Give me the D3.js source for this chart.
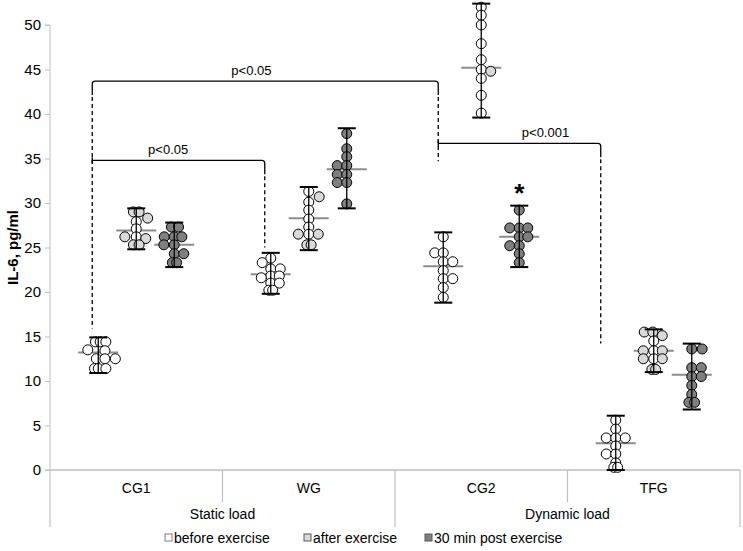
<!DOCTYPE html>
<html><head><meta charset="utf-8">
<script src="https://cdn.jsdelivr.net/npm/d3@7"></script>
<style>body{margin:0;background:#fff}svg{display:block;font-family:"Liberation Sans",Arial,sans-serif}</style>
</head><body><div id="chart"></div>
<script>
// ---------- data ----------
const categories = ["CG1", "WG", "CG2", "TFG"];
const groups = [{label: "Static load", cats: ["CG1", "WG"]}, {label: "Dynamic load", cats: ["CG2", "TFG"]}];
const seriesNames = ["before exercise", "after exercise", "30 min post exercise"];
const yTicks = [0, 5, 10, 15, 20, 25, 30, 35, 40, 45, 50];
// individual points: [value, jitter (in marker widths)]
const cg1Before = [[14.4,-0.3],[14.4,0.2],[14.4,0.8],[13.5,-1.1],[13.4,0.7],[12.5,-0.2],[12.5,0.7],[12.5,1.8],[11.4,-0.4],[11.4,0],[11.4,0.8]];
const cg1After = [[29.0,-0.3],[29.0,0.3],[28.3,1.2],[27.9,0],[27.1,0],[26.2,-1.2],[26.2,0],[26.0,1.0],[25.3,-0.3],[25.3,0.3]];
const cg1Post = [[27.3,-0.3],[27.3,0.45],[26.2,-1.05],[26.2,0],[26.2,0.8],[25.3,-1.1],[25.3,0],[24.3,0],[24.3,1.0],[23.3,-0.2],[23.3,0.25]];
const wgBefore = [[23.8,0],[23.3,-0.9],[22.6,0],[22.6,1.0],[21.8,0],[21.8,0.9],[21.6,-1.0],[21.0,0],[21.0,0.9],[20.2,-0.2],[20.2,0.2]];
const wgAfter = [[31.3,0],[30.7,1.1],[30.1,0],[29.2,0],[28.2,0],[27.3,0],[26.5,-1.1],[26.5,0],[26.5,1.0],[25.3,-0.2],[25.3,0.25]];
const wgPost = [[37.8,0],[36.1,0],[35.2,0],[34.2,-1],[34.2,0],[33.2,-1],[33.2,0],[32.3,-1],[32.3,0],[29.9,0]];
const cg2Before = [[26.2,0],[24.4,-0.9],[24.4,0],[23.4,0],[23.4,1.0],[22.4,0],[21.5,0],[21.5,1.0],[20.5,0],[19.4,0]];
const cg2After = [[52.0,0],[51.1,0],[50.0,0],[47.9,0],[46.1,0],[45.0,0],[44.8,1.0],[44.0,0],[42.1,0],[40.1,0]];
const cg2Post = [[29.2,0],[27.2,-1],[27.2,0],[27.2,0.9],[26.2,0],[26.2,0.9],[25.2,-1],[25.2,0],[24.3,0],[23.3,0]];
const tfgBefore = [[5.6,0],[4.6,0],[3.6,-1],[3.6,0],[3.6,1],[2.7,0],[1.8,-1],[1.8,0],[0.8,0],[0.3,-0.2],[0.3,0.2]];
const tfgAfter = [[15.5,-1],[15.5,-0.1],[15.1,0.9],[14.5,0],[13.4,-1.1],[13.4,0],[13.4,0.9],[12.5,-1.1],[12.5,0],[12.5,0.9],[11.3,-0.2],[11.3,0.2]];
const tfgPost = [[13.6,0],[13.6,1.1],[11.5,0],[11.5,1.0],[10.5,0],[10.5,1.0],[9.5,0],[8.5,0],[7.6,-0.3],[7.6,0.3]];
// summary per category & series: [mean, low, high]
const cg1Stats = [[13.2,10.9,14.9],[26.9,24.8,29.4],[25.3,22.8,27.8]];
const wgStats  = [[22.0,19.8,24.4],[28.3,24.7,31.8],[33.8,29.4,38.4]];
const cg2Stats = [[22.9,18.8,26.7],[45.2,39.6,52.4],[26.2,22.8,29.7]];
const tfgStats = [[3.0,0.0,6.1],[13.4,11.0,15.8],[10.7,6.8,14.2]];
const pointSets = {CG1:[cg1Before,cg1After,cg1Post], WG:[wgBefore,wgAfter,wgPost], CG2:[cg2Before,cg2After,cg2Post], TFG:[tfgBefore,tfgAfter,tfgPost]};
const statSets = {CG1:cg1Stats, WG:wgStats, CG2:cg2Stats, TFG:tfgStats};
// significance brackets: from/to category (before series), top level, end levels of the dashed drops
const brackets = [
  {from:"CG1", to:"CG2", top:43.7, leftEnd:15.9, rightEnd:34.7, label:"p<0.05"},
  {from:"CG1", to:"WG",  top:34.8, leftEnd:null, rightEnd:25.0, label:"p<0.05"},
  {from:"CG2", to:"TFG", top:36.7, leftEnd:null, rightEnd:14.2, label:"p<0.001"}
];
const starMarks = [{cat:"CG2", series:2, text:"*"}];

// ---------- drawing ----------
const W = 743, H = 551;
const svg = d3.select("#chart").append("svg").attr("width", W).attr("height", H);
const left = 50, right = 740, y0 = 470, yTop = 25;
const y = d3.scaleLinear().domain([0, 50]).range([y0, yTop]);
const xc = d3.scaleBand().domain(categories).range([left, right]);
const xs = d3.scalePoint().domain(d3.range(3)).range([-38, 38]);
const sx = (cat, s) => xc(cat) + xc.bandwidth() / 2 + xs(s);
const R = 5, JW = 9.5;
const axisCol = "#bfbfbf";
const fills = ["#ffffff", "#d9d9d9", "#7f7f7f"];

// y axis
const yAxis = svg.append("g").attr("transform", `translate(${left},0)`)
  .call(d3.axisLeft(y).tickValues(yTicks).tickSize(5).tickPadding(4));
yAxis.select(".domain").attr("stroke", axisCol).attr("d", `M-5,${y0}H0V${yTop}H-5`);
yAxis.selectAll(".tick line").attr("stroke", axisCol);
yAxis.selectAll(".tick text").attr("font-size", 15).attr("fill", "#000").attr("font-family", "Liberation Sans, Arial");
svg.append("text").attr("transform", `translate(18,${(y0 + yTop) / 2}) rotate(-90)`)
  .attr("text-anchor", "middle").attr("font-weight", "bold").attr("font-size", 15).text("IL-6, pg/ml");

// x axis line + category table
svg.append("line").attr("x1", left).attr("x2", right).attr("y1", y0).attr("y2", y0).attr("stroke", axisCol).attr("stroke-width", 1.5);
const bounds = categories.map(c => xc(c)).concat([right]);
bounds.forEach((b, i) => {
  const groupEdge = (i % 2 === 0);
  svg.append("line").attr("x1", b).attr("x2", b).attr("y1", y0).attr("y2", groupEdge ? 527 : 502)
    .attr("stroke", axisCol).attr("stroke-width", 1.2);
});
categories.forEach(c => {
  svg.append("text").attr("x", xc(c) + xc.bandwidth() / 2).attr("y", 493).attr("text-anchor", "middle")
    .attr("font-size", 14).text(c);
});
groups.forEach(g => {
  const x1 = xc(g.cats[0]), x2 = xc(g.cats[g.cats.length - 1]) + xc.bandwidth();
  svg.append("text").attr("x", (x1 + x2) / 2).attr("y", 519).attr("text-anchor", "middle")
    .attr("font-size", 14).text(g.label);
});

// brackets
const bracketShift = {CG1: -6, WG: -6, CG2: -5, TFG: -15};
const labelFrac = [0.46, 0.44, 0.66];
const bx = c => sx(c, 0) + bracketShift[c];
const dash = "4,3";
brackets.forEach((b, i) => {
  const xa = bx(b.from), xb = bx(b.to), yt = y(b.top);
  const g = svg.append("g").attr("stroke", "#000").attr("fill", "none").attr("stroke-width", 1.3);
  const leftPart = b.leftEnd !== null ? `M${xa},${yt + 14}V${yt + 3}Q${xa},${yt} ${xa + 3},${yt}` : `M${xa},${yt - 3}V${yt + 3}M${xa},${yt}`;
  g.append("path").attr("d", `${leftPart}H${xb - 3}Q${xb},${yt} ${xb},${yt + 3}V${yt + 14}`);
  if (b.leftEnd !== null) g.append("line").attr("x1", xa).attr("x2", xa).attr("y1", yt + 16).attr("y2", y(b.leftEnd)).attr("stroke-dasharray", dash);
  g.append("line").attr("x1", xb).attr("x2", xb).attr("y1", yt + 16).attr("y2", y(b.rightEnd)).attr("stroke-dasharray", dash);
  svg.append("text").attr("x", xa + (xb - xa) * labelFrac[i]).attr("y", yt - 6).attr("text-anchor", "middle")
    .attr("font-size", 13).text(b.label);
});

// points, mean lines, error bars
categories.forEach(c => {
  pointSets[c].forEach((pts, s) => {
    const cx = sx(c, s);
    const st = statSets[c][s];
    svg.append("line").attr("x1", cx - 20).attr("x2", cx + 20).attr("y1", y(st[0])).attr("y2", y(st[0]))
      .attr("stroke", "#8c8c8c").attr("stroke-width", 2);
    svg.append("g").selectAll("circle").data(pts).join("circle")
      .attr("cx", d => cx + d[1] * JW).attr("cy", d => y(d[0])).attr("r", R)
      .attr("fill", d => (s === 1 && d[1] === 0) ? "#ffffff" : fills[s])
      .attr("stroke", "#000").attr("stroke-width", 1);
    const eg = svg.append("g").attr("stroke", "#000");
    eg.append("line").attr("x1", cx).attr("x2", cx).attr("y1", y(st[1])).attr("y2", y(st[2])).attr("stroke-width", 1.3);
    [st[1], st[2]].forEach(v => eg.append("line").attr("x1", cx - 9).attr("x2", cx + 9).attr("y1", y(v)).attr("y2", y(v)).attr("stroke-width", 2));
  });
});
starMarks.forEach(m => {
  const st = statSets[m.cat][m.series];
  svg.append("text").attr("x", sx(m.cat, m.series)).attr("y", y(st[2]) - 4).attr("text-anchor", "middle")
    .attr("font-size", 26).attr("font-weight", "bold").text(m.text);
});

// legend
const legX = [165, 304, 425];
seriesNames.forEach((n, i) => {
  svg.append("rect").attr("x", legX[i]).attr("y", 534).attr("width", 7).attr("height", 7)
    .attr("fill", fills[i]).attr("stroke", i === 0 ? "#7f7f7f" : "#595959").attr("stroke-width", 1);
  svg.append("text").attr("x", legX[i] + 9).attr("y", 543).attr("font-size", 14).text(n);
});
</script></body></html>
